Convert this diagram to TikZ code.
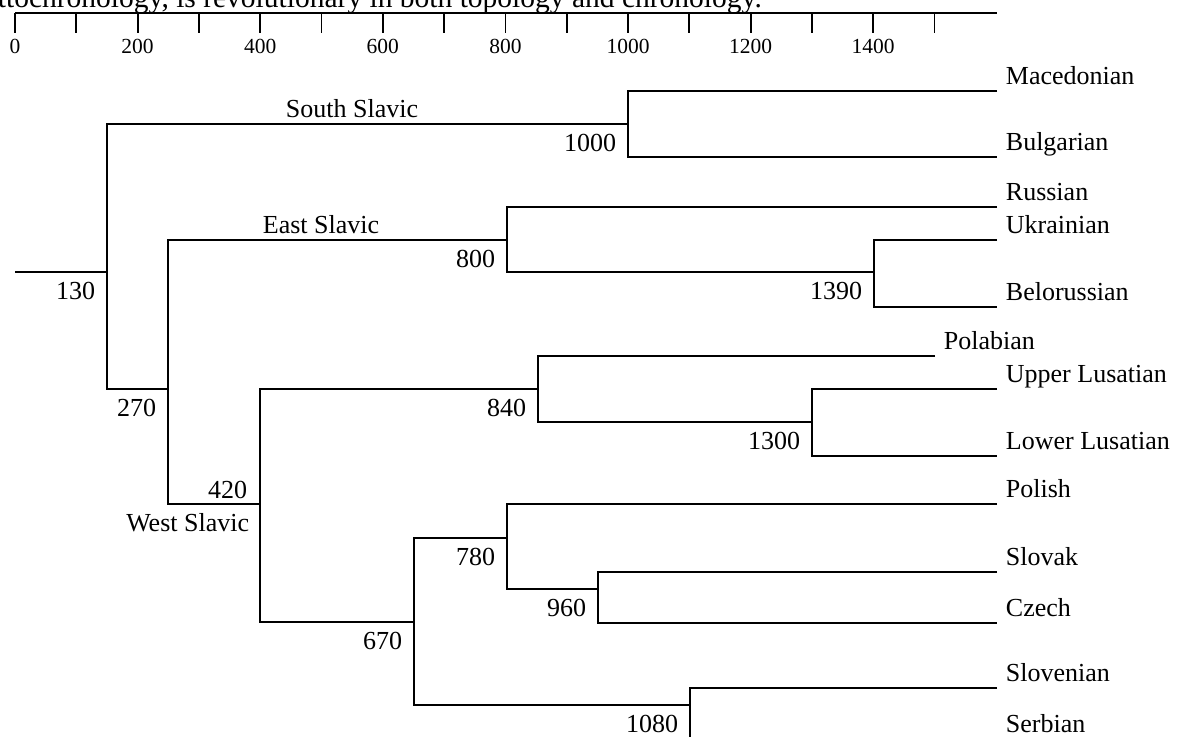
\documentclass[tikz,border=0pt]{standalone}
\usepackage{fontspec}
\setmainfont{Liberation Serif}
\begin{document}
\begin{tikzpicture}[x=0.5pt,y=-0.5pt,line width=0.9pt,
  lab/.style={inner sep=0pt,font=\fontsize{13}{15}\selectfont},
  num/.style={lab,anchor=base east},
  leaflab/.style={lab,anchor=base west},
  grouplab/.style={lab,anchor=base},
  ticklab/.style={inner sep=0pt,anchor=base,font=\fontsize{10.75}{12}\selectfont},
  toptext/.style={inner sep=0pt,anchor=base west,font=\fontsize{14.75}{17}\selectfont}]
\useasboundingbox (0,0) rectangle (1181,736);
\clip (0,0) rectangle (1181,736);

% caption fragment
\node[toptext] (cap) at (-3,7.5) {ttochronology, is revolutionary in both topology and chronology.};

% time axis
\coordinate (ax0) at (15,12.7);
\coordinate (ax1) at (997,12.7);
\draw (ax0) -- (ax1);
\foreach \k in {0,...,15}{
  \coordinate (t\k) at ({15+61.3*\k},12.7);
  \draw (t\k) -- ++(0,20);
}
\foreach \k in {0,2,...,14}{
  \pgfmathtruncatemacro{\v}{100*\k}
  \node[ticklab] (tl\k) at ({15+61.3*\k},53.5) {\v};
}

% internal nodes
\coordinate (root) at (15,272);
\coordinate (n130) at (107,272);
\coordinate (n1000) at (628,124);
\coordinate (n270) at (168,389);
\coordinate (n800) at (507,240);
\coordinate (n1390) at (874,272);
\coordinate (n420) at (260,504);
\coordinate (n840) at (538,389);
\coordinate (n1300) at (812,422);
\coordinate (n670) at (414,622);
\coordinate (n780) at (507,538);
\coordinate (n960) at (598,589);
\coordinate (n1080) at (690,705);

% leaves
\coordinate (mac) at (997,91);
\coordinate (bul) at (997,157);
\coordinate (rus) at (997,207);
\coordinate (ukr) at (997,240);
\coordinate (bel) at (997,307);
\coordinate (pla) at (935,356);
\coordinate (ulu) at (997,389);
\coordinate (llu) at (997,456);
\coordinate (pls) at (997,504);
\coordinate (slk) at (997,572);
\coordinate (cze) at (997,623);
\coordinate (slv) at (997,688);
\coordinate (srb) at (997,739);

% branches
\draw (root) -- (n130);
\draw (n1000) -| (n130) |- (n270);
\draw (mac) -| (n1000) |- (bul);
\draw (n800) -| (n270) |- (n420);
\draw (rus) -| (n800) |- (n1390);
\draw (ukr) -| (n1390) |- (bel);
\draw (n840) -| (n420) |- (n670);
\draw (pla) -| (n840) |- (n1300);
\draw (ulu) -| (n1300) |- (llu);
\draw (n780) -| (n670) |- (n1080);
\draw (pls) -| (n780) |- (n960);
\draw (slk) -| (n960) |- (cze);
\draw (slv) -| (n1080) |- (srb);

% leaf labels
\node[leaflab] (lmac) at ([shift={(8,-7)}]mac) {Macedonian};
\node[leaflab] (lbul) at ([shift={(8,-7)}]bul) {Bulgarian};
\node[leaflab] (lrus) at ([shift={(8,-7)}]rus) {Russian};
\node[leaflab] (lukr) at ([shift={(8,-7)}]ukr) {Ukrainian};
\node[leaflab] (lbel) at ([shift={(8,-7)}]bel) {Belorussian};
\node[leaflab] (lpla) at ([shift={(8,-7)}]pla) {Polabian};
\node[leaflab] (lulu) at ([shift={(8,-7)}]ulu) {Upper Lusatian};
\node[leaflab] (lllu) at ([shift={(8,-7)}]llu) {Lower Lusatian};
\node[leaflab] (lpls) at ([shift={(8,-7)}]pls) {Polish};
\node[leaflab] (lslk) at ([shift={(8,-7)}]slk) {Slovak};
\node[leaflab] (lcze) at ([shift={(8,-7)}]cze) {Czech};
\node[leaflab] (lslv) at ([shift={(8,-7)}]slv) {Slovenian};
\node[leaflab] (lsrb) at ([shift={(8,-7)}]srb) {Serbian};

% group labels
\node[grouplab] (gss) at (352,117) {South Slavic};
\node[grouplab] (ges) at (321,233) {East Slavic};
\node[num] (gws) at (250,531) {West Slavic};

% date labels
\node[num] (d130) at ([shift={(-11,27)}]n130) {130};
\node[num] (d1000) at ([shift={(-11,27)}]n1000) {1000};
\node[num] (d800) at ([shift={(-11,27)}]n800) {800};
\node[num] (d1390) at ([shift={(-11,27)}]n1390) {1390};
\node[num] (d270) at ([shift={(-11,27)}]n270) {270};
\node[num] (d840) at ([shift={(-11,27)}]n840) {840};
\node[num] (d1300) at ([shift={(-11,27)}]n1300) {1300};
\node[num] (d420) at ([shift={(-12,-6)}]n420) {420};
\node[num] (d780) at ([shift={(-11,27)}]n780) {780};
\node[num] (d960) at ([shift={(-11,27)}]n960) {960};
\node[num] (d670) at ([shift={(-11,27)}]n670) {670};
\node[num] (d1080) at ([shift={(-11,27)}]n1080) {1080};
\end{tikzpicture}
\end{document}
